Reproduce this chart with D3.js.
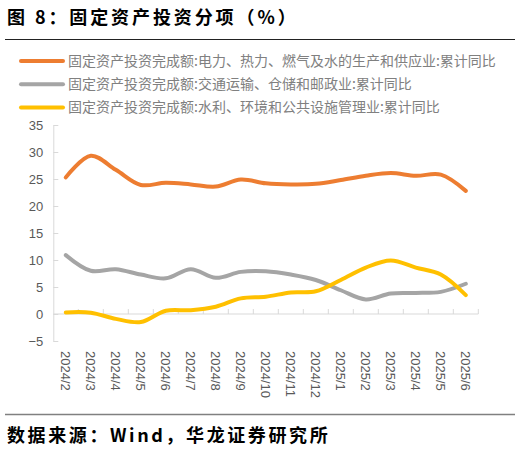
<!DOCTYPE html>
<html>
<head>
<meta charset="utf-8">
<script src="https://cdn.jsdelivr.net/npm/d3@7/dist/d3.min.js"></script>
<style>
  html, body { margin: 0; padding: 0; background: #fff; }
  svg { display: block; }
</style>
</head>
<body>
<svg id="chart" width="520" height="455"></svg>
<script>
const months = ["2024/2","2024/3","2024/4","2024/5","2024/6","2024/7","2024/8","2024/9","2024/10","2024/11","2024/12","2025/1","2025/2","2025/3","2025/4","2025/5","2025/6"];
const power = [25.3, 29.3, 26.7, 23.9, 24.3, 24.0, 23.6, 24.9, 24.2, 24.0, 24.1, 24.8, 25.6, 26.1, 25.6, 25.8, 22.8];
const transport = [10.9, 8.0, 8.3, 7.3, 6.6, 8.3, 6.7, 7.8, 7.9, 7.3, 6.3, 4.4, 2.7, 3.8, 3.9, 4.1, 5.6];
const water = [0.3, 0.25, -0.9, -1.5, 0.6, 0.7, 1.35, 2.9, 3.2, 4.0, 4.2, 6.3, 8.6, 9.9, 8.6, 7.3, 3.5];
const seriesNames = [
  "固定资产投资完成额:电力、热力、燃气及水的生产和供应业:累计同比",
  "固定资产投资完成额:交通运输、仓储和邮政业:累计同比",
  "固定资产投资完成额:水利、环境和公共设施管理业:累计同比"
];
const yTicks = [-5, 0, 5, 10, 15, 20, 25, 30, 35];
const titleText = "图 8：固定资产投资分项（%）";
const sourceText = "数据来源：Wind，华龙证券研究所";

const colors = ["#ED7D31", "#A5A5A5", "#FFC000"];
const series = [power, transport, water];

const svg = d3.select("#chart");
const cjk = "'Noto Sans CJK SC', sans-serif";
const latin = "'Liberation Sans', Arial, sans-serif";

// Title
svg.append("text").attr("x", 7).attr("y", 24)
  .attr("font-family", cjk).attr("font-weight", "bold").attr("font-size", 18)
  .attr("letter-spacing", 2.9).attr("fill", "#000").text(titleText);
svg.append("line").attr("x1", 5).attr("x2", 515).attr("y1", 39.5).attr("y2", 39.5)
  .attr("stroke", "#222").attr("stroke-width", 1);

// Legend
seriesNames.forEach((n, i) => {
  const y = 61 + i * 23.2;
  svg.append("line").attr("x1", 21).attr("x2", 63).attr("y1", y).attr("y2", y)
    .attr("stroke", colors[i]).attr("stroke-width", 4).attr("stroke-linecap", "round");
  svg.append("text").attr("x", 68).attr("y", y).attr("dy", "0.36em")
    .attr("font-family", cjk).attr("font-size", 14).attr("fill", "#808080").text(n);
});

// Scales
const x = d3.scaleBand().domain(months).range([53.3, 478.3]).padding(0);
const y = d3.scaleLinear().domain([-5, 35]).range([341, 125]);

// Y axis
const yAxis = d3.axisLeft(y).tickValues(yTicks).tickSizeInner(-5).tickSizeOuter(0).tickPadding(10);
const gy = svg.append("g").attr("transform", "translate(53.3,0)").call(yAxis);
gy.select(".domain").attr("stroke", "#d9d9d9");
gy.selectAll(".tick line").attr("stroke", "#d9d9d9");
gy.selectAll(".tick text").attr("font-family", latin).attr("font-size", 13).attr("fill", "#595959");

// X axis at y=0
const y0 = y(0);
svg.append("line").attr("x1", x.range()[0]).attr("x2", x.range()[1]).attr("y1", y0).attr("y2", y0)
  .attr("stroke", "#d9d9d9");
const bounds = months.map(m => x(m)).concat([x.range()[1]]);
svg.append("g").selectAll("line").data(bounds.slice(1)).join("line")
  .attr("x1", d => d).attr("x2", d => d).attr("y1", y0 - 5).attr("y2", y0)
  .attr("stroke", "#d9d9d9");
svg.append("g").selectAll("text").data(months).join("text")
  .attr("transform", d => `translate(${x(d) + x.bandwidth() / 2},351) rotate(90)`)
  .attr("dy", "0.35em")
  .attr("font-family", latin).attr("font-size", 13).attr("fill", "#595959")
  .text(d => d);

// Lines
const line = d3.line()
  .x((d, i) => x(months[i]) + x.bandwidth() / 2)
  .y(d => y(d))
  .curve(d3.curveCatmullRom.alpha(0.5));
series.forEach((s, i) => {
  svg.append("path").datum(s).attr("d", line)
    .attr("fill", "none").attr("stroke", colors[i]).attr("stroke-width", 4)
    .attr("stroke-linecap", "round").attr("stroke-linejoin", "round");
});

// Bottom rule and source
svg.append("line").attr("x1", 5).attr("x2", 515).attr("y1", 414.5).attr("y2", 414.5)
  .attr("stroke", "#808080").attr("stroke-width", 1.5);
svg.append("text").attr("x", 7).attr("y", 442)
  .attr("font-family", cjk).attr("font-weight", "bold").attr("font-size", 18)
  .attr("letter-spacing", 2.6).attr("fill", "#000").text(sourceText);
</script>
</body>
</html>
